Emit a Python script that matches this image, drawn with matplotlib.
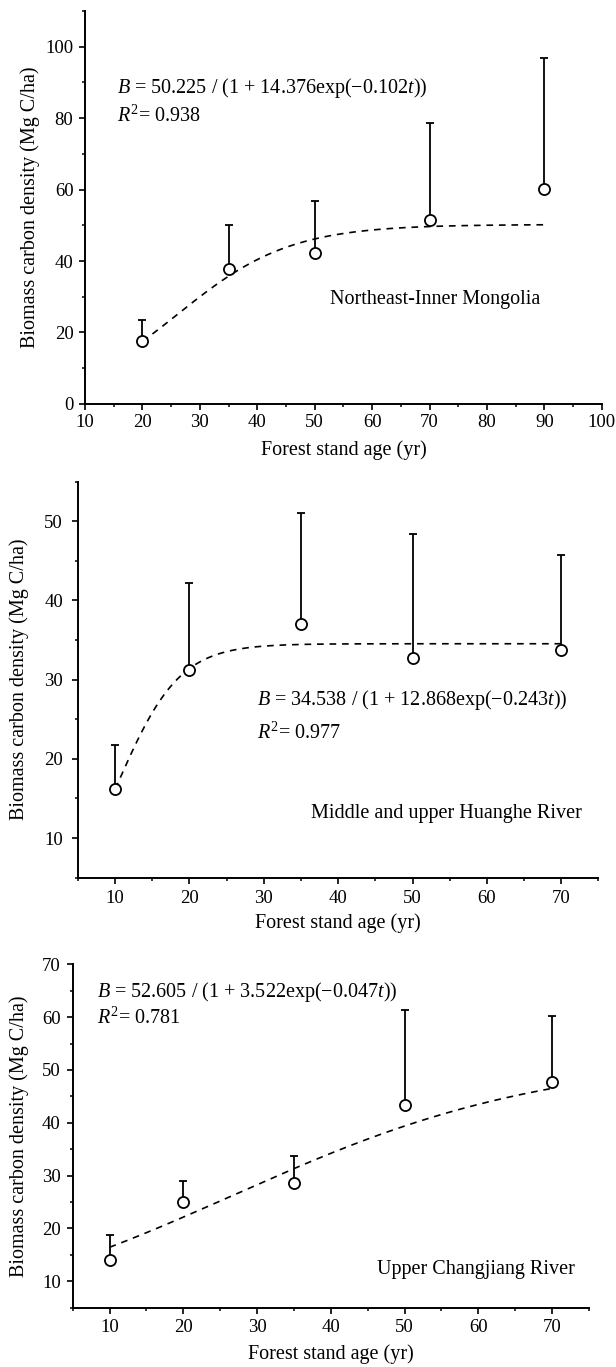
import numpy as np
import matplotlib
matplotlib.use("Agg")
import matplotlib.pyplot as plt
from matplotlib.ticker import MultipleLocator

plt.rcParams['font.family'] = ['Liberation Serif', 'DejaVu Serif']
plt.rcParams['mathtext.fontset'] = 'custom'
plt.rcParams['mathtext.rm'] = 'Liberation Serif'
plt.rcParams['mathtext.it'] = 'Liberation Serif:italic'

# panel 1 - Northeast-Inner Mongolia
age1 = [20, 35, 50, 70, 90]
mean1 = [17.5, 37.8, 42.2, 51.6, 60.3]
upper1 = [23.6, 50.0, 56.9, 78.5, 96.8]
fit1 = [50.225, 14.376, 0.102]

# panel 2 - Middle and upper Huanghe River
age2 = [10, 20, 35, 50, 70]
mean2 = [16.15, 31.2, 37.0, 32.8, 33.75]
upper2 = [21.7, 42.25, 51.1, 48.4, 45.7]
fit2 = [34.538, 12.868, 0.243]

# panel 3 - Upper Changjiang River
age3 = [10, 20, 35, 50, 70]
mean3 = [14.1, 25.0, 28.65, 43.3, 47.7]
upper3 = [18.7, 29.0, 33.8, 61.4, 60.2]
fit3 = [52.605, 3.522, 0.047]

regions = ["Northeast-Inner Mongolia", "Middle and upper Huanghe River", "Upper Changjiang River"]
eqs = ["$B$ = 50.225 / (1 + 14.376exp(\u22120.102$t$))",
       "$B$ = 34.538 / (1 + 12.868exp(\u22120.243$t$))",
       "$B$ = 52.605 / (1 + 3.522exp(\u22120.047$t$))"]
r2 = ["0.938", "0.977", "0.781"]

fig = plt.figure(figsize=(6.16, 13.67), dpi=100)

def panel(rect, age, mean, upper, fit, xlim, ylim, xmaj, ymaj, ymin, eq, r2txt, eqpos,
          name, namepos, xpad, ypad, xl_y, yl_x):
    ax = fig.add_axes(rect)
    err = np.array(upper) - np.array(mean)
    ax.errorbar(age, mean, yerr=[np.zeros(len(err)), err], fmt='none', ecolor='black',
                elinewidth=1.3, capsize=2.6, capthick=1.3, zorder=2)
    t = np.linspace(age[0], age[-1], 200)
    a, b, k = fit
    ax.plot(t, a / (1 + b * np.exp(-k * t)), color='black', lw=1.2, dashes=(4, 3.5), zorder=3)
    ax.plot(age, mean, 'o', ms=8, mfc='white', mec='black', mew=1.3, zorder=4)
    ax.set_xlim(*xlim)
    ax.set_ylim(*ylim)
    ax.xaxis.set_major_locator(MultipleLocator(xmaj))
    ax.xaxis.set_minor_locator(MultipleLocator(xmaj / 2))
    ax.yaxis.set_major_locator(MultipleLocator(ymaj))
    ax.yaxis.set_minor_locator(MultipleLocator(ymin))
    for s in ['top', 'right']:
        ax.spines[s].set_visible(False)
    for s in ['left', 'bottom']:
        ax.spines[s].set_linewidth(1.4)
    ax.tick_params(which='major', direction='out', length=4, width=1.2, labelsize=13.5)
    ax.tick_params(which='minor', direction='out', length=2.5, width=1.1)
    ax.tick_params(axis='x', pad=xpad)
    ax.tick_params(axis='y', pad=ypad)
    ax.set_xlabel("Forest stand age (yr)", fontsize=14.5)
    ax.set_ylabel("Biomass carbon density (Mg C/ha)", fontsize=14.5)
    ax.xaxis.set_label_coords(0.5, xl_y)
    ax.yaxis.set_label_coords(yl_x, 0.5)
    ax.text(eqpos[0], eqpos[1], eq, fontsize=14.5, va='center', ha='left')
    ax.text(eqpos[0], eqpos[2], "$R^2$= " + r2txt, fontsize=14.5, va='center', ha='left')
    ax.text(namepos[0], namepos[1], name, fontsize=14.5, va='center', ha='left')
    return ax

panel([0.138, 0.7045, 0.839, 0.2875], age1, mean1, upper1, fit1, (10, 100), (0, 110), 10, 20, 10,
      eqs[0], r2[0], (15.6, 88.5, 80.5), regions[0], (52.7, 29.1), 3.5, 4.3, -0.0916, -0.087)
panel([0.1266, 0.358, 0.8448, 0.2896], age2, mean2, upper2, fit2, (5, 75), (5, 55), 10, 10, 5,
      eqs[1], r2[1], (29.1, 27.4, 23.2), regions[1], (36.4, 13.1), 5, 6.8, -0.0892, -0.094)
panel([0.118, 0.0434, 0.838, 0.2512], age3, mean3, upper3, fit3, (5, 75), (5, 70), 10, 10, 5,
      eqs[2], r2[2], (8.3, 64.8, 59.8), regions[2], (46.2, 12.2), 4.5, 4.6, -0.1057, -0.0845)

fig.savefig("out.png", dpi=100)
